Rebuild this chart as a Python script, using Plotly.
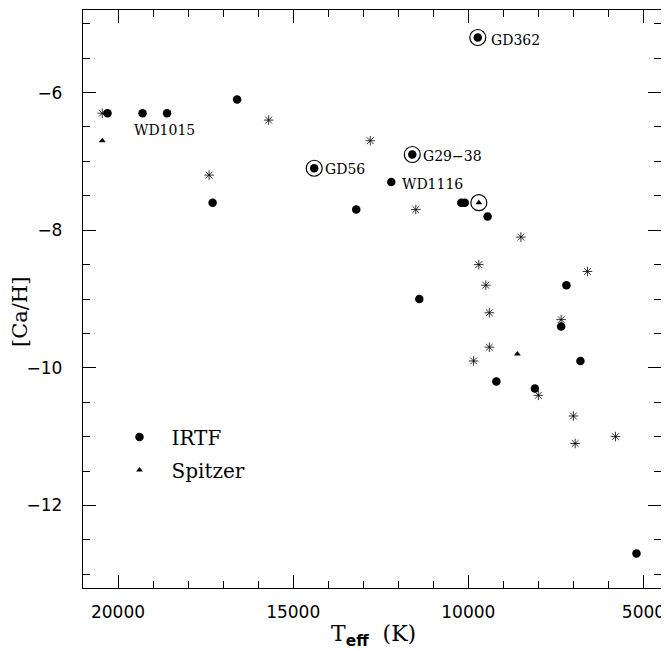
import plotly.graph_objects as go

# ---- data ----
irtf_teff = [20300, 19300, 18600, 16600, 17300, 14400, 13200, 11600, 12200, 9730,
             10200, 10100, 9450, 7200, 11400, 7350, 6800, 9200, 8100, 5200]
irtf_cah = [-6.3, -6.3, -6.3, -6.1, -7.6, -7.1, -7.7, -6.9, -7.3, -5.2,
            -7.6, -7.6, -7.8, -8.8, -9.0, -9.4, -9.9, -10.2, -10.3, -12.7]

spitzer_teff = [20450, 9700, 8600]
spitzer_cah = [-6.7, -7.6, -9.8]

other_teff = [20450, 15700, 17400, 12800, 11500, 8500, 9700, 6600, 9500, 9400,
              7350, 9400, 9850, 8000, 7000, 6950, 5800]
other_cah = [-6.3, -6.4, -7.2, -6.7, -7.7, -8.1, -8.5, -8.6, -8.8, -9.2,
             -9.3, -9.7, -9.9, -10.4, -10.7, -11.1, -11.0]

ringed_teff = [9730, 11600, 14400, 9700]
ringed_cah = [-5.2, -6.9, -7.1, -7.6]

label_names = ["GD362", "G29\u221238", "GD56", "WD1116", "WD1015"]
label_teff = [9730, 11600, 14400, 12200, 19300]
label_cah = [-5.2, -6.9, -7.1, -7.3, -6.3]

x_ticks = [20000, 15000, 10000, 5000]
y_ticks = [-12, -10, -8, -6]

# ---- figure ----
fig = go.Figure()

fig.add_trace(go.Scatter(
    x=other_teff, y=other_cah, mode="markers", showlegend=False,
    marker=dict(symbol="asterisk-open", size=8, color="black",
                line=dict(color="black", width=0.8)),
))
fig.add_trace(go.Scatter(
    x=irtf_teff, y=irtf_cah, mode="markers", name="IRTF", legendgroup="a",
    marker=dict(symbol="circle", size=8.5, color="black"),
))
fig.add_trace(go.Scatter(
    x=spitzer_teff, y=spitzer_cah, mode="markers", name="Spitzer", legendgroup="b",
    marker=dict(symbol="triangle-up", size=6, color="black"),
))
fig.add_trace(go.Scatter(
    x=ringed_teff, y=ringed_cah, mode="markers", showlegend=False,
    marker=dict(symbol="circle-open", size=16, color="black", line=dict(width=1.2)),
))

offsets = {"GD362": (11, -2), "G29\u221238": (9, -1), "GD56": (9, -1),
           "WD1116": (9, -2), "WD1015": (-11, -17)}
for name, tx, ty in zip(label_names, label_teff, label_cah):
    dx, dy = offsets[name]
    fig.add_annotation(x=tx, y=ty, text=name, showarrow=False, xanchor="left",
                       yanchor="middle", xshift=dx, yshift=dy,
                       font=dict(family="DejaVu Serif", size=14, color="black"))

# axis titles
fig.add_annotation(
    xref="paper", yref="paper", x=0.503, y=0, yanchor="middle", xanchor="center",
    yshift=-47, showarrow=False,
    text="T<sub><span style='font-family:DejaVu Sans;font-weight:bold'>eff</span></sub>  (K)",
    font=dict(family="DejaVu Serif", size=22, color="black"))
fig.add_annotation(
    xref="paper", yref="paper", x=0, y=0.4775, xanchor="center", yanchor="middle",
    xshift=-63, showarrow=False, textangle=-90, text="[Ca/H]",
    font=dict(family="DejaVu Serif", size=21, color="black"))

axis_common = dict(
    showline=True, linecolor="black", linewidth=1.3, mirror="allticks",
    ticks="inside", ticklen=13, tickwidth=1.2, tickcolor="black",
    showgrid=False, zeroline=False,
    tickfont=dict(family="DejaVu Sans", size=17, color="black"),
)

fig.update_xaxes(
    range=[21000, 4500], tickvals=x_ticks, ticktext=[str(v) for v in x_ticks],
    minor=dict(dtick=1000, tick0=0, ticks="inside", ticklen=7, tickwidth=1, tickcolor="black"),
    ticklabelstandoff=8,
    **axis_common,
)
fig.update_yaxes(
    range=[-13.2, -4.8], tickvals=y_ticks, ticktext=["\u2212" + str(-v) for v in y_ticks],
    minor=dict(dtick=0.5, tick0=0, ticks="inside", ticklen=7, tickwidth=1, tickcolor="black"),
    ticklabelstandoff=16,
    **axis_common,
)

fig.update_layout(
    width=661, height=642,
    margin=dict(l=75, r=8, t=2, b=62),
    plot_bgcolor="white", paper_bgcolor="white",
    legend=dict(x=0.0424, y=0.295, xanchor="left", yanchor="top",
                font=dict(family="DejaVu Serif", size=20, color="black"),
                bgcolor="rgba(0,0,0,0)", tracegroupgap=4, itemwidth=54),
)

fig.write_html("out.html")
